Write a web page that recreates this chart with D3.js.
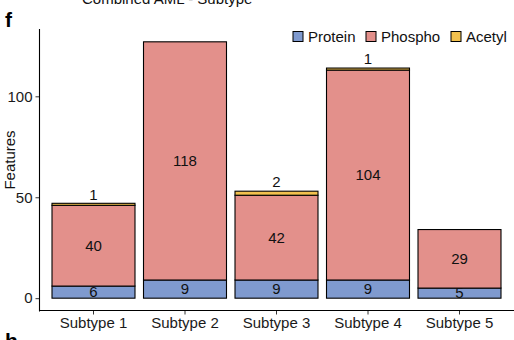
<!DOCTYPE html>
<html>
<head>
<meta charset="utf-8">
<script src="https://cdn.jsdelivr.net/npm/d3@7"></script>
<style>
  html, body { margin: 0; padding: 0; background: #fff; }
  svg { display: block; font-family: "Liberation Sans", Arial, Helvetica, sans-serif; }
</style>
</head>
<body>
<svg id="chart" width="514" height="340"></svg>
<script>
// Feature counts per subtype, split by data type
const categories = ["Subtype 1", "Subtype 2", "Subtype 3", "Subtype 4", "Subtype 5"];
const seriesNames = ["Protein", "Phospho", "Acetyl"];
const protein = [6, 9, 9, 9, 5];
const phospho = [40, 118, 42, 104, 29];
const acetyl = [1, 0, 2, 1, 0];
const yTicks = [0, 50, 100];
const colors = ["#7F9ACF", "#E3908B", "#F2C14E"];

const svg = d3.select("#chart");
const W = 514;

const rows = categories.map((c, i) => ({
  cat: c, Protein: protein[i], Phospho: phospho[i], Acetyl: acetyl[i]
}));
const stacked = d3.stack().keys(seriesNames)(rows);
const totals = rows.map(r => r.Protein + r.Phospho + r.Acetyl);
const yMax = d3.max(totals);
const pad = yMax * 0.05;

const x = d3.scaleBand()
  .domain(categories)
  .range([38.6, 514.4])
  .paddingInner(0.093)
  .paddingOuter(0.1465);

const y = d3.scaleLinear()
  .domain([-pad, yMax + pad])
  .range([311, 29]);

// panel letter and (partly clipped) title
svg.append("text").attr("x", 5).attr("y", 27)
  .attr("font-size", 21).attr("font-weight", "bold").attr("fill", "#000").text("f");
svg.append("text").attr("x", 5).attr("y", 348)
  .attr("font-size", 21).attr("font-weight", "bold").attr("fill", "#000").text("h");
svg.append("text").attr("x", 82).attr("y", 4)
  .attr("font-size", 15).attr("fill", "#111").text("Combined AML - Subtype");

// bars
const layers = svg.append("g").selectAll("g")
  .data(stacked).join("g")
  .attr("fill", (d, i) => colors[i]);

layers.selectAll("rect")
  .data(d => d.filter(s => s[1] - s[0] > 0))
  .join("rect")
  .attr("x", d => x(d.data.cat))
  .attr("width", x.bandwidth())
  .attr("y", d => y(d[1]))
  .attr("height", d => y(d[0]) - y(d[1]))
  .attr("stroke", "#000")
  .attr("stroke-width", 1.1);

// value labels: centred in protein / phospho segments, above the bar for acetyl
const labels = svg.append("g")
  .attr("font-size", 15).attr("fill", "#111").attr("text-anchor", "middle");

stacked.forEach((layer, li) => {
  layer.forEach(s => {
    const v = s[1] - s[0];
    if (v <= 0) return;
    const cx = x(s.data.cat) + x.bandwidth() / 2;
    const cy = li === 2 ? y(s[1]) - 9 : y((s[0] + s[1]) / 2);
    labels.append("text")
      .attr("x", cx).attr("y", cy)
      .attr("dy", "0.35em")
      .text(v);
  });
});

// axes
const yAxis = svg.append("g")
  .attr("transform", "translate(39.5,0)")
  .call(d3.axisLeft(y).tickValues(yTicks).tickSizeInner(4).tickSizeOuter(0).tickPadding(3));
yAxis.select(".domain").remove();
yAxis.append("line").attr("x1", 0).attr("x2", 0).attr("y1", 29).attr("y2", 311.5)
  .attr("stroke", "#000").attr("stroke-width", 1.1);

const xAxis = svg.append("g")
  .attr("transform", "translate(0,310.5)")
  .call(d3.axisBottom(x).tickSizeInner(4).tickSizeOuter(0).tickPadding(3));
xAxis.select(".domain").remove();
xAxis.append("line").attr("x1", 39).attr("x2", W).attr("y1", 0).attr("y2", 0)
  .attr("stroke", "#000").attr("stroke-width", 1.1);

[yAxis, xAxis].forEach(a => {
  a.selectAll(".tick line").attr("stroke", "#333");
  a.selectAll(".tick text").attr("font-size", 15).attr("fill", "#1a1a1a")
    .attr("font-family", "\"Liberation Sans\", Arial, sans-serif");
});

// y axis title
svg.append("text")
  .attr("transform", "translate(15,160) rotate(-90)")
  .attr("text-anchor", "middle")
  .attr("font-size", 15).attr("fill", "#111")
  .text("Features");

// legend
const legend = svg.append("g").attr("font-size", 15).attr("fill", "#111");
const legendX = [293, 366, 451];
seriesNames.forEach((name, i) => {
  const g = legend.append("g").attr("transform", `translate(${legendX[i]},31.5)`);
  g.append("rect").attr("width", 10).attr("height", 10)
    .attr("fill", colors[i]).attr("stroke", "#000").attr("stroke-width", 1);
  g.append("text").attr("x", 15).attr("y", 10).text(name);
});
</script>
</body>
</html>
